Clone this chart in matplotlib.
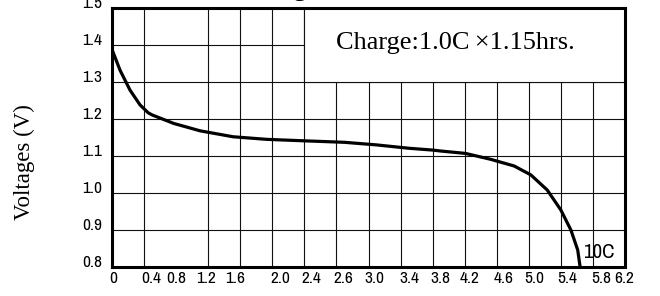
import numpy as np
import matplotlib
matplotlib.use("Agg")
import matplotlib.pyplot as plt
from matplotlib import font_manager as fm
from matplotlib.patches import Rectangle

# ---- data ----
x_tick_labels = ["0", "0.4", "0.8", "1.2", "1.6", "2.0", "2.4", "2.6", "3.0",
                 "3.4", "3.8", "4.2", "4.6", "5.0", "5.4", "5.8", "6.2"]
# where each (hand-spaced) label sits along the axis, in axis units
x_label_pos = [0.0125, 0.4875, 0.8, 1.175, 1.5375, 2.1, 2.4875, 2.881, 3.275,
               3.7125, 4.1, 4.4625, 4.8875, 5.2625, 5.675, 6.1, 6.3875]
y_ticks = [0.8, 0.9, 1.0, 1.1, 1.2, 1.3, 1.4, 1.5]
y_tick_labels = ["0.8", "0.9", "1.0", "1.1", "1.2", "1.3", "1.4", "1.5"]
curve_x = [0, 0.1, 0.225, 0.35, 0.45, 0.5, 0.77, 1.1, 1.51, 1.93, 2.4, 2.9, 3.3,
           3.7, 4.0, 4.1, 4.41, 4.725, 5.017, 5.225, 5.43, 5.6, 5.725, 5.81, 5.84]
curve_y = [1.388, 1.332, 1.278, 1.238, 1.217, 1.211, 1.188, 1.168, 1.152, 1.145,
           1.141, 1.137, 1.130, 1.121, 1.116, 1.1135, 1.107, 1.091, 1.073, 1.049,
           1.008, 0.954, 0.900, 0.846, 0.800]
curve_label = "10C"
note_text = "Charge:1.0C\u2009\u00d71.15hrs."
y_label = "Voltages (V)"
title_text = "Discharge Characteristics"

# ---- fonts ----
tick_font = {"family": "Liberation Sans"}
for f in fm.fontManager.ttflist:
    if ("Narrow" in f.name or "Condensed" in f.name) and "Mono" not in f.name \
            and "Serif" not in f.name:
        tick_font = {"family": f.name}
        break
else:
    for f in fm.fontManager.ttflist:
        if f.name == "DejaVu Sans" and f.stretch == "condensed":
            tick_font = {"family": "DejaVu Sans", "stretch": "condensed"}
            break
serif = "Liberation Serif"

plt.rcParams["ytick.alignment"] = "baseline"

fig = plt.figure(figsize=(6.6, 2.96), dpi=100)
ax = fig.add_axes([112 / 660, 29 / 296, 513 / 660, 259 / 296])

grid_step = 0.4
n_grid = len(x_tick_labels) - 1
ax.set_xlim(0, n_grid * grid_step)
ax.set_ylim(0.8, 1.5)

ax.set_xticks(np.arange(n_grid + 1) * grid_step, minor=True)
ax.set_xticks(x_label_pos)
ax.set_xticklabels(x_tick_labels)
ax.set_yticks(y_ticks)
ax.set_yticklabels(y_tick_labels)
ax.tick_params(axis="both", which="both", length=0)
ax.tick_params(axis="x", pad=3)
ax.tick_params(axis="y", pad=7)
for lab in ax.get_xticklabels() + ax.get_yticklabels():
    lab.set_fontfamily(tick_font["family"])
    if "stretch" in tick_font:
        lab.set_fontstretch(tick_font["stretch"])
    lab.set_fontsize(12.5)
    lab.set_color("black")

ax.set_axisbelow(True)
ax.grid(True, axis="x", which="minor", color="#111111", linewidth=0.8)
ax.grid(False, axis="x", which="major")
ax.grid(True, axis="y", which="major", color="#111111", linewidth=0.8)

for s in ax.spines.values():
    s.set_linewidth(2.2)
    s.set_color("black")
    s.set_zorder(5)

# white note box covering the grid
box_x0 = 6 * grid_step
ax.add_patch(Rectangle((box_x0, 1.3), n_grid * grid_step - box_x0, 0.2,
                       facecolor="white", edgecolor="#111111", linewidth=0.8, zorder=1))
ax.text(4.28, 1.405, note_text, family=serif, fontsize=19, ha="center", va="center",
        zorder=3)

ax.plot(curve_x, curve_y, color="black", linewidth=2.3, zorder=4,
        solid_capstyle="butt", solid_joinstyle="round")

t = ax.text(6.075, 0.838, curve_label, fontsize=15, ha="center", va="center",
            zorder=3, family=tick_font["family"])
if "stretch" in tick_font:
    t.set_fontstretch(tick_font["stretch"])

fig.text(24 / 660, 1 - 162 / 296, y_label, family=serif, fontsize=16.5,
         rotation=90, ha="center", va="center")

fig.text(212 / 660, 1 + 3.6 / 296, title_text, family=serif, fontsize=19,
         ha="left", va="baseline")

fig.savefig("out.png", dpi=100)
